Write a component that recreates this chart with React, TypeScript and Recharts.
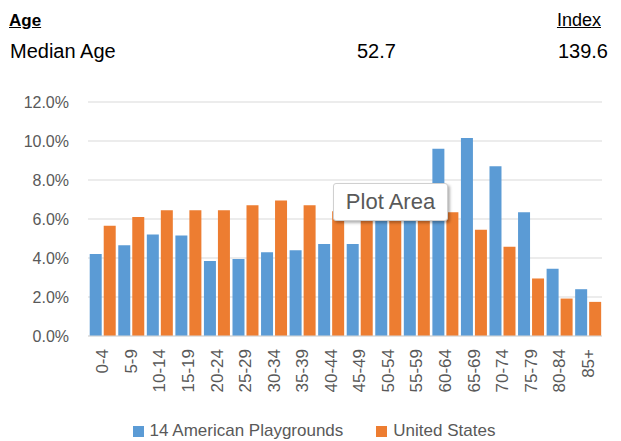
import { BarChart, Bar, XAxis, YAxis, CartesianGrid, Legend } from "recharts";

const ageGroups = ["0-4", "5-9", "10-14", "15-19", "20-24", "25-29", "30-34", "35-39", "40-44", "45-49", "50-54", "55-59", "60-64", "65-69", "70-74", "75-79", "80-84", "85+"];
const playgrounds = [4.2, 4.65, 5.2, 5.15, 3.85, 3.95, 4.3, 4.4, 4.72, 4.72, 6.3, 6.9, 9.6, 10.15, 8.7, 6.35, 3.45, 2.4];
const unitedStates = [5.65, 6.1, 6.45, 6.45, 6.45, 6.7, 6.95, 6.7, 6.4, 6.6, 7.0, 6.6, 6.35, 5.45, 4.58, 2.95, 1.92, 1.75];
const yTicks = [0, 2, 4, 6, 8, 10, 12];

const FONT = "'Liberation Sans', Arial, sans-serif";
const GREY = "#595959";
const BLUE = "#5b9bd5";
const ORANGE = "#ed7d31";

const data = ageGroups.map((age, i) => ({
  age,
  playgrounds: playgrounds[i],
  us: unitedStates[i],
}));

function AgeTick(props: any) {
  const { x, y, payload } = props;
  return (
    <text
      x={x}
      y={y}
      dy={6}
      transform={`rotate(-90 ${x} ${y})`}
      textAnchor="end"
      fill={GREY}
      fontSize={17}
      fontFamily={FONT}
    >
      {payload.value}
    </text>
  );
}

function LegendBox(props: any) {
  const items = props.payload || [];
  return (
    <div style={{ display: "flex", justifyContent: "center", paddingLeft: 26, paddingTop: 6, fontFamily: FONT, fontSize: 17, color: GREY }}>
      {items.map((item: any, i: number) => (
        <div key={i} style={{ display: "flex", alignItems: "center", marginLeft: i > 0 ? 33 : 0 }}>
          <span style={{ display: "inline-block", width: 11, height: 11, background: item.color, marginRight: 6 }} />
          <span>{item.value}</span>
        </div>
      ))}
    </div>
  );
}

export default function App() {
  const headerBase: React.CSSProperties = {
    position: "absolute",
    fontFamily: FONT,
    fontSize: 20,
    lineHeight: "20px",
    color: "#000",
    whiteSpace: "nowrap",
  };
  return (
    <div style={{ position: "absolute", left: 0, top: 0, width: 621, height: 441, background: "#fff" }}>
      <div style={{ ...headerBase, fontSize: 17, left: 9, top: 11, fontWeight: "bold", textDecoration: "underline" }}>Age</div>
      <div style={{ ...headerBase, fontSize: 18, right: 20, top: 10, textDecoration: "underline" }}>Index</div>
      <div style={{ ...headerBase, left: 10, top: 41 }}>Median Age</div>
      <div style={{ ...headerBase, left: 357, top: 41 }}>52.7</div>
      <div style={{ ...headerBase, right: 13, top: 41 }}>139.6</div>

      <BarChart
        width={621}
        height={441}
        data={data}
        margin={{ top: 102, right: 19, left: 0, bottom: 0 }}
        barCategoryGap="6%"
        barGap={2}
        style={{ position: "absolute", left: 0, top: 0 }}
      >
        <CartesianGrid vertical={false} stroke="#d9d9d9" />
        <YAxis
          width={88}
          domain={[0, 12]}
          ticks={yTicks}
          tickFormatter={(v: number) => `${v.toFixed(1)}%`}
          axisLine={false}
          tickLine={false}
          tickSize={0}
          tickMargin={19}
          tick={{ fill: GREY, fontSize: 16, fontFamily: FONT }}
        />
        <XAxis
          dataKey="age"
          interval={0}
          height={79}
          stroke="#d9d9d9"
          tickLine={false}
          tickSize={0}
          tickMargin={13}
          tick={<AgeTick />}
        />
        <Legend height={26} content={<LegendBox />} />
        <Bar dataKey="playgrounds" name="14 American Playgrounds" fill={BLUE} isAnimationActive={false} />
        <Bar dataKey="us" name="United States" fill={ORANGE} isAnimationActive={false} />
      </BarChart>

      <div
        style={{
          position: "absolute",
          left: 333,
          top: 183,
          width: 113,
          height: 36,
          background: "#fff",
          border: "1px solid #d0d0d0",
          borderRadius: 3,
          boxShadow: "2px 2px 3px rgba(0,0,0,0.3)",
          fontFamily: FONT,
          fontSize: 22,
          color: GREY,
          lineHeight: "36px",
          textAlign: "center",
        }}
      >
        Plot Area
      </div>
    </div>
  );
}
